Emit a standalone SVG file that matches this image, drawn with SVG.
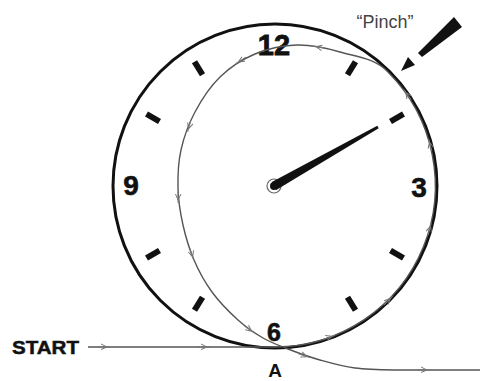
<svg xmlns="http://www.w3.org/2000/svg" width="480" height="381" viewBox="0 0 480 381">
<style>
.num{font-family:"Liberation Sans",Arial,sans-serif;font-weight:bold;fill:#111;text-anchor:middle}
.tick{stroke:#111;stroke-width:6;stroke-linecap:butt}
.rope{fill:none;stroke:#555;stroke-width:1.4}
.barb{fill:none;stroke:#777;stroke-width:1}
</style>
<defs>
<path id="b" class="barb" d="M-7,0 L5,0 M2,0 L-4,-3 M2,0 L-4,2.5"/>
</defs>
<rect width="480" height="381" fill="#fff"/>
<g id="clock">
<circle cx="275" cy="186" r="162" fill="none" stroke="#111" stroke-width="3"/>
</g>
<g id="ticks">
<line class="tick" x1="347.5" y1="74.7" x2="355.5" y2="61.7"/>
<line class="tick" x1="390.5" y1="121.5" x2="403.5" y2="114"/>
<line class="tick" x1="390.5" y1="250.5" x2="403.5" y2="258"/>
<line class="tick" x1="347.5" y1="297.3" x2="355.5" y2="310.3"/>
<line class="tick" x1="202.5" y1="297.3" x2="194.5" y2="310.3"/>
<line class="tick" x1="159.5" y1="250.5" x2="146.5" y2="258"/>
<line class="tick" x1="159.5" y1="121.5" x2="146.5" y2="114"/>
<line class="tick" x1="202.5" y1="74.7" x2="194.5" y2="61.7"/>
</g>
<g id="numbers">
<text class="num" x="274" y="55" font-size="29" stroke="#111" stroke-width="0.8">12</text>
<text class="num" x="419" y="197" font-size="28" stroke="#111" stroke-width="0.6">3</text>
<text class="num" x="274" y="341" font-size="25" stroke="#111" stroke-width="0.6">6</text>
<text class="num" x="131" y="195" font-size="28" stroke="#111" stroke-width="0.6">9</text>
</g>
<g id="rope">
<path class="rope" d="M88,347 L275,347 A161 161 0 0 0 388,72 C375,58 355.2,56.5 340,52 C324.8,47.5 311.2,44.7 297,45 C282.8,45.3 267.8,48.7 255,54 C242.2,59.3 230,67.3 220,77 C210,86.7 201.5,99.8 195,112 C188.5,124.2 183.8,137.3 181,150 C178.2,162.7 177.7,175.5 178,188 C178.3,200.5 180.3,213 183,225 C185.7,237 189.2,248.8 194,260 C198.8,271.2 204.7,282 212,292 C219.3,302 229.5,312.3 238,320 C246.5,327.7 254.7,333.2 263,338 C271.3,342.8 278.5,345.3 288,349 C297.5,352.7 308.8,356.8 320,360 C331.2,363.2 341.7,366.3 355,368 C368.3,369.7 379.2,369.7 400,370 L480,370"/>
<use href="#b" transform="translate(105,347)"/>
<use href="#b" transform="translate(205,347)"/>
<use href="#b" transform="translate(330,337) rotate(-20)"/>
<use href="#b" transform="translate(389,300) rotate(-45)"/>
<use href="#b" transform="translate(430,228) rotate(-75)"/>
<use href="#b" transform="translate(430,144) rotate(-105)"/>
<use href="#b" transform="translate(407,94) rotate(-125)"/>
<use href="#b" transform="translate(318,47) rotate(189)"/>
<use href="#b" transform="translate(240,61) rotate(147)"/>
<use href="#b" transform="translate(189,127) rotate(105)"/>
<use href="#b" transform="translate(178,198) rotate(90)"/>
<use href="#b" transform="translate(192,255) rotate(72)"/>
<use href="#b" transform="translate(250,330) rotate(36)"/>
<use href="#b" transform="translate(305,356) rotate(19)"/>
<use href="#b" transform="translate(425,370)"/>
</g>
<g id="hand">
<circle cx="274" cy="186" r="7" fill="#fff" stroke="#666" stroke-width="1.2"/>
<polygon points="276.2,189.9 378.7,128.3 377.3,125.7 271.8,182.1" fill="#111"/>
<circle cx="274" cy="186" r="4" fill="#111"/>
</g>
<g id="pinch-arrow">
<polygon points="462,27 422,57 418,53 454,17" fill="#111"/>
<polygon points="401,71 408,57 415,65" fill="#111"/>
</g>
<g id="labels">
<text x="385" y="28" font-family="Liberation Sans,Arial,sans-serif" font-size="18" fill="#444" text-anchor="middle">“Pinch”</text>
<text x="12" y="354" font-family="Liberation Sans,Arial,sans-serif" font-size="19" font-weight="bold" fill="#111" stroke="#111" stroke-width="0.5" textLength="67" lengthAdjust="spacingAndGlyphs">START</text>
<text class="num" x="275" y="377" font-size="19">A</text>
</g>
</svg>
